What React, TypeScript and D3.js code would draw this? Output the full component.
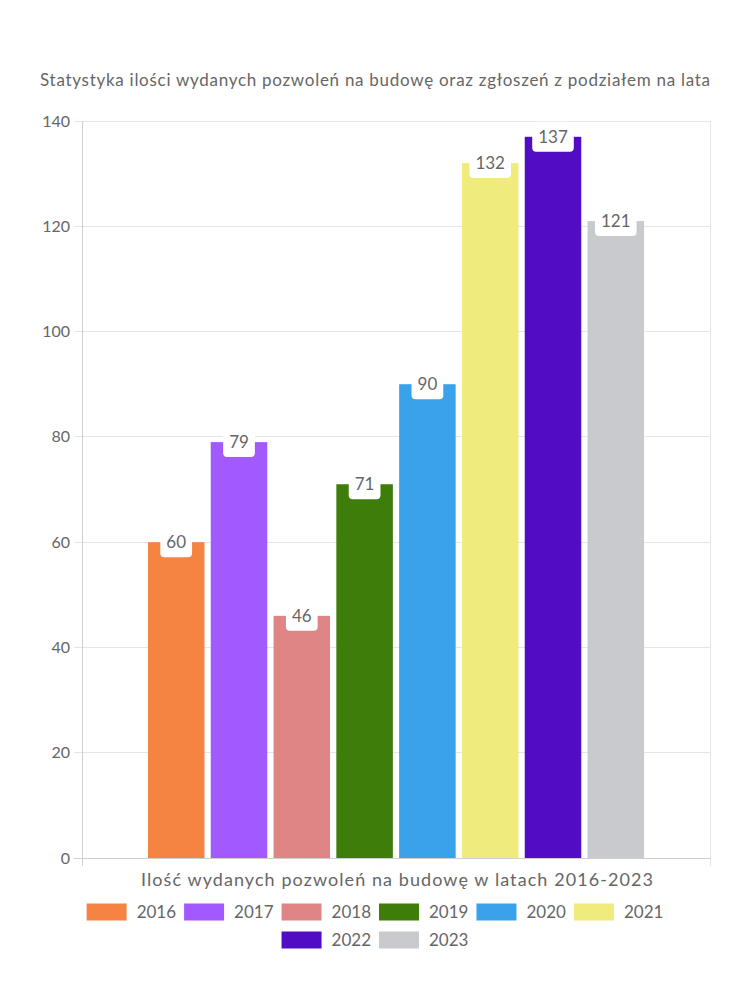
import React, { useEffect, useRef } from "react";
import * as d3 from "d3";

const years = ["2016", "2017", "2018", "2019", "2020", "2021", "2022", "2023"];
const values = [60, 79, 46, 71, 90, 132, 137, 121];
const colors = ["#F58442", "#A259FF", "#E08585", "#3F7D0B", "#38A3EB", "#F0EB7D", "#510CC4", "#C9CACE"];
const yTicks = [0, 20, 40, 60, 80, 100, 120, 140];
const title = "Statystyka ilości wydanych pozwoleń na budowę oraz zgłoszeń z podziałem na lata";
const xTitle = "Ilość wydanych pozwoleń na budowę w latach 2016-2023";

const W = 750, H = 1000;
const FONT = "Lato, 'Noto Sans', sans-serif";
const TXT = "#666666";
const GRID = "#e5e5e5";

export default function App() {
  const ref = useRef<SVGSVGElement>(null);
  useEffect(() => {
    const svg = d3.select(ref.current);
    svg.selectAll("*").remove();
    const left = 82, right = 710, top = 121, bottom = 858;
    const y = d3.scaleLinear().domain([0, 140]).range([bottom, top]);
    const cat = d3.scaleBand().domain(["all"]).range([left, right]).paddingInner(0).paddingOuter(0);
    const catW = cat.bandwidth() * 0.8;
    const catX = (cat("all") as number) + cat.bandwidth() * 0.1;
    const x = d3.scaleBand().domain(years).range([catX, catX + catW]).paddingInner(0.1).paddingOuter(0.05);

    // title
    const t = svg.append("text").attr("x", 375).attr("y", 86).attr("text-anchor", "middle")
      .attr("font-family", FONT).attr("font-size", 17).attr("fill", TXT).text(title);
    (t.node() as SVGTextElement).setAttribute("textLength", "670");

    // grid
    const g = svg.append("g");
    yTicks.forEach((v) => {
      g.append("line").attr("x1", left - 8).attr("x2", right).attr("y1", y(v)).attr("y2", y(v))
        .attr("stroke", v === 0 ? "#cfcfcf" : GRID).attr("stroke-width", 1).attr("shape-rendering", "crispEdges");
      g.append("text").attr("x", 70).attr("y", y(v)).attr("dy", "0.35em").attr("text-anchor", "end")
        .attr("font-family", FONT).attr("font-size", 16).attr("fill", TXT).text(v);
    });
    [left, right].forEach((xx) => {
      g.append("line").attr("x1", xx).attr("x2", xx).attr("y1", top).attr("y2", bottom + 8)
        .attr("stroke", xx === left ? "#cfcfcf" : GRID).attr("stroke-width", 1).attr("shape-rendering", "crispEdges");
    });

    // bars
    const bars = svg.append("g");
    years.forEach((yr, i) => {
      const bx = x(yr) as number;
      bars.append("rect").attr("x", bx).attr("y", y(values[i])).attr("width", x.bandwidth())
        .attr("height", bottom - y(values[i])).attr("fill", colors[i]);
    });
    // labels
    years.forEach((yr, i) => {
      const cx = (x(yr) as number) + x.bandwidth() / 2;
      const cy = y(values[i]);
      const lt = svg.append("text").attr("x", cx).attr("y", cy).attr("dy", "0.35em").attr("text-anchor", "middle")
        .attr("font-family", FONT).attr("font-size", 17).attr("fill", TXT).text(values[i]);
      const w = (lt.node() as SVGTextElement).getComputedTextLength() + 12;
      svg.insert("rect", () => lt.node() as any).attr("x", cx - w / 2).attr("y", cy - 15).attr("width", w)
        .attr("height", 30).attr("rx", 4).attr("fill", "#ffffff");
    });

    // x title
    const xt = svg.append("text").attr("x", 397).attr("y", 886).attr("text-anchor", "middle")
      .attr("font-family", FONT).attr("font-size", 18).attr("fill", TXT).text(xTitle);
    (xt.node() as SVGTextElement).setAttribute("textLength", "512");

    // legend
    const lg = svg.append("g");
    const measure = (s: string) => {
      const tmp = lg.append("text").attr("font-family", FONT).attr("font-size", 17).text(s);
      const w = (tmp.node() as SVGTextElement).getComputedTextLength();
      tmp.remove();
      return w;
    };
    const boxW = 40, boxH = 17, gap = 10, itemPad = 8;
    const items = years.map((yr, i) => ({ yr, c: colors[i], w: boxW + gap + measure(yr) + itemPad }));
    const maxW = 600;
    const rows: typeof items[] = [];
    let cur: typeof items = [], curW = 0;
    items.forEach((it) => {
      if (curW + it.w > maxW && cur.length) { rows.push(cur); cur = []; curW = 0; }
      cur.push(it); curW += it.w;
    });
    if (cur.length) rows.push(cur);
    rows.forEach((row, ri) => {
      const total = d3.sum(row, (d) => d.w) - itemPad;
      let xx = 375 - total / 2;
      const cy = 912 + ri * 28;
      row.forEach((it) => {
        lg.append("rect").attr("x", xx).attr("y", cy - boxH / 2).attr("width", boxW).attr("height", boxH).attr("fill", it.c);
        lg.append("text").attr("x", xx + boxW + gap).attr("y", cy).attr("dy", "0.35em")
          .attr("font-family", FONT).attr("font-size", 17).attr("fill", TXT).text(it.yr);
        xx += it.w;
      });
    });
  }, []);
  return <svg ref={ref} width={W} height={H} style={{ display: "block", position: "absolute", left: 0, top: 0 }} />;
}
